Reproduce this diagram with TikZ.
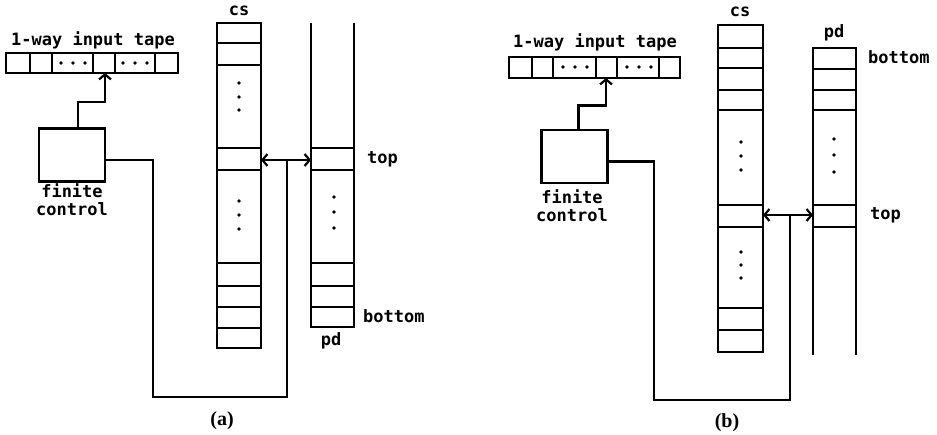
\documentclass[tikz,border=0pt]{standalone}
\usepackage{fontspec}
\setmainfont{Liberation Serif}
\setmonofont{DejaVu Sans Mono}
\usetikzlibrary{arrows.meta}
\begin{document}
\begin{tikzpicture}[x=1pt,y=-1pt,
  box/.style={line width=2.8pt},
  conn/.style={line width=2.2pt},
  tip/.style={-{Straight Barb[length=5pt,width=12pt]}},
  dtip/.style={{Straight Barb[length=5pt,width=12pt]}-{Straight Barb[length=5pt,width=12pt]}},
  fc/.style={draw, line width=2.8pt, minimum width=66pt, minimum height=53pt, inner sep=0pt},
  lbl/.style={font=\ttfamily\bfseries\fontsize{17}{18}\selectfont, inner sep=0pt},
  sublabel/.style={font=\bfseries\fontsize{20}{22}\selectfont, inner sep=0pt},
  dot/.style={circle, fill, inner sep=0pt, minimum size=3.6pt}]
\useasboundingbox (0,0) rectangle (937,435);

% ================= (a) =================
\node[lbl] (tapeA) at (93,40) {1-way input tape};
\draw[box] (6,53) rectangle (178,73);
\foreach \x in {30,52,93,115,155} \draw[box] (\x,53) -- (\x,73);
\foreach \x in {61,73,85,123,135,147} \node[dot] at (\x,63) {};
\coordinate (headA) at (105,73);

\node[fc] (fcA) at (72,155) {};
\node[lbl, align=center] (fcAt) at (72,200) {finite\\control};
\draw[conn,tip] ([xshift=6pt]fcA.north) -- ++(0,-25) -| (headA);

% cs column
\node[lbl] (csA) at (239,11) {cs};
\draw[box] (217,23) rectangle (261,348);
\foreach \y in {43,65,148,170,263,286,307,328} \draw[box] (217,\y) -- (261,\y);
\foreach \y in {83,97,110,201,215,229} \node[dot] at (239,\y) {};

% pd column
\draw[box] (311,23) -- (311,327) -- (354,327) -- (354,23);
\foreach \y in {148,170,263,286,307} \draw[box] (311,\y) -- (354,\y);
\foreach \y in {197,212,228} \node[dot] at (334,\y) {};
\node[lbl] (pdA) at (331,341) {pd};
\node[lbl, anchor=west] (topA) at (367,159) {top};
\node[lbl, anchor=west] (botA) at (363,316) {bottom};

\coordinate (csRA) at (261,160);
\coordinate (pdLA) at (311,160);
\coordinate (jA) at (287,160);
\coordinate (loopA) at (153,397);
\draw[conn,dtip] (csRA) -- (pdLA);
\draw[conn] ([yshift=-5pt]fcA.east) -| (loopA) -| (jA);

\node[sublabel] (labA) at (222,421) {(a)};

% ================= (b) =================
\node[lbl] (tapeB) at (595,42) {1-way input tape};
\draw[box] (509,57) rectangle (680,78);
\foreach \x in {532,553,596,617,659} \draw[box] (\x,57) -- (\x,78);
\foreach \x in {563,575,587,627,639,651} \node[dot] at (\x,67) {};
\coordinate (headB) at (606,78);

\node[fc] (fcB) at (574.5,156.5) {};
\node[lbl, align=center] (fcBt) at (572,206) {finite\\control};
\draw[conn,tip] ([xshift=4pt]fcB.north) -- ++(0,-23) -| (headB);

% cs column
\node[lbl] (csB) at (740,12) {cs};
\draw[box] (718,25) rectangle (763,352);
\foreach \y in {48,68,90,110,205,227,308,330} \draw[box] (718,\y) -- (763,\y);
\foreach \y in {142,156,170,252,265,278} \node[dot] at (741,\y) {};

% pd column
\draw[box] (813,355) -- (813,48) -- (856,48) -- (856,355);
\foreach \y in {69,90,110,205,227} \draw[box] (813,\y) -- (856,\y);
\foreach \y in {139,155,172} \node[dot] at (834,\y) {};
\node[lbl] (pdB) at (834,33) {pd};
\node[lbl, anchor=west] (botB) at (868,57) {bottom};
\node[lbl, anchor=west] (topB) at (870,215) {top};

\coordinate (csRB) at (763,215);
\coordinate (pdLB) at (813,215);
\coordinate (jB) at (790,215);
\coordinate (loopB) at (654,400);
\draw[conn,dtip] (csRB) -- (pdLB);
\draw[conn] ([yshift=-5pt]fcB.east) -| (loopB) -| (jB);

\node[sublabel] (labB) at (727,423) {(b)};
\end{tikzpicture}
\end{document}
